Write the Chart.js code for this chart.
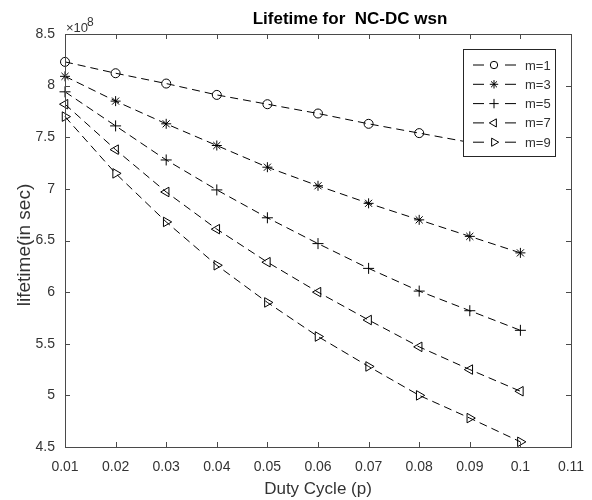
<!DOCTYPE html>
<html lang="en">
<head>
    <meta charset="UTF-8">
    <title>Lifetime for NC-DC wsn</title>
    <script src="https://cdn.jsdelivr.net/npm/chart.js"></script>
    <style>
        body {
            margin: 0;
            padding: 0;
            background: #ffffff;
        }
        #lifetimeChart {
            display: block;
        }
    </style>
</head>
<body>
<canvas id="lifetimeChart" width="592" height="500"></canvas>
<script>
// duty cycle values (x axis)
const dutyCycle = [0.01, 0.02, 0.03, 0.04, 0.05, 0.06, 0.07, 0.08, 0.09, 0.1];

// lifetime in units of 1e8 sec
const lifeM1 = [8.23, 8.12, 8.02, 7.91, 7.82, 7.73, 7.63, 7.54, 7.45, 7.37];
const lifeM3 = [8.09, 7.85, 7.63, 7.42, 7.21, 7.03, 6.86, 6.70, 6.54, 6.38];
const lifeM5 = [7.94, 7.61, 7.28, 6.99, 6.72, 6.47, 6.23, 6.01, 5.82, 5.63];
const lifeM7 = [7.82, 7.38, 6.97, 6.61, 6.29, 6.00, 5.73, 5.47, 5.25, 5.04];
const lifeM9 = [7.70, 7.15, 6.68, 6.26, 5.90, 5.57, 5.28, 5.00, 4.78, 4.55];

const seriesLabels = ['m=1', 'm=3', 'm=5', 'm=7', 'm=9'];

const xTicks = [0.01, 0.02, 0.03, 0.04, 0.05, 0.06, 0.07, 0.08, 0.09, 0.1, 0.11];
const yTicks = [4.5, 5, 5.5, 6, 6.5, 7, 7.5, 8, 8.5];

const axisColor = '#4a4a4a';
const textColor = '#333333';
const fontName = '"Liberation Sans", Arial, sans-serif';

// marker style per series (matlab o * + < >)
const markers = [
  { style: 'circle', rotation: 0, radius: 4.5 },
  { style: 'star', rotation: 0, radius: 5 },
  { style: 'cross', rotation: 0, radius: 5.5 },
  { style: 'triangle', rotation: -90, radius: 5.5 },
  { style: 'triangle', rotation: 90, radius: 5.5 }
];

function makeDataset(label, values, i) {
  return {
    label: label,
    data: values.map((v, k) => ({ x: dutyCycle[k], y: v })),
    borderColor: '#000000',
    borderWidth: 1,
    borderDash: [8, 5],
    backgroundColor: 'rgba(0,0,0,0)',
    pointStyle: markers[i].style,
    pointRotation: markers[i].rotation,
    pointRadius: markers[i].radius,
    pointBorderWidth: 1,
    pointBorderColor: '#000000',
    pointBackgroundColor: 'rgba(0,0,0,0)',
    fill: false,
    tension: 0,
    clip: false
  };
}

const allSeries = [lifeM1, lifeM3, lifeM5, lifeM7, lifeM9];

// box, inside ticks, title, axis labels and legend in matlab style
const matlabFrame = {
  id: 'matlabFrame',
  afterDatasetsDraw(chart) {
    const ctx = chart.ctx;
    const area = chart.chartArea;
    const xs = chart.scales.x;
    const ys = chart.scales.y;
    const tickLen = 5;

    ctx.save();
    ctx.strokeStyle = axisColor;
    ctx.lineWidth = 1;
    ctx.setLineDash([]);
    ctx.strokeRect(area.left + 0.5, area.top + 0.5, area.right - area.left, area.bottom - area.top);

    ctx.beginPath();
    xTicks.forEach(t => {
      const px = Math.round(xs.getPixelForValue(t)) + 0.5;
      ctx.moveTo(px, area.bottom);
      ctx.lineTo(px, area.bottom - tickLen);
      ctx.moveTo(px, area.top);
      ctx.lineTo(px, area.top + tickLen);
    });
    yTicks.forEach(t => {
      const py = Math.round(ys.getPixelForValue(t)) + 0.5;
      ctx.moveTo(area.left, py);
      ctx.lineTo(area.left + tickLen, py);
      ctx.moveTo(area.right, py);
      ctx.lineTo(area.right - tickLen, py);
    });
    ctx.stroke();

    const midX = (area.left + area.right) / 2;

    // title
    ctx.fillStyle = '#000000';
    ctx.font = 'bold 17px ' + fontName;
    ctx.textAlign = 'center';
    ctx.textBaseline = 'middle';
    ctx.fillText('Lifetime for  NC-DC wsn', 350, 19);

    // exponent label
    ctx.fillStyle = textColor;
    ctx.font = '13px ' + fontName;
    ctx.textAlign = 'left';
    ctx.textBaseline = 'alphabetic';
    ctx.fillText('\u00d710', area.left + 1, 32);
    ctx.font = '12px ' + fontName;
    ctx.fillText('8', area.left + 22, 26);

    // axis titles
    ctx.font = '17px ' + fontName;
    ctx.textAlign = 'center';
    ctx.textBaseline = 'middle';
    ctx.fillText('Duty Cycle (p)', midX, 489);
    ctx.save();
    ctx.font = '19px ' + fontName;
    ctx.translate(25, 245);
    ctx.rotate(-Math.PI / 2);
    ctx.fillText('lifetime(in sec)', 0, 0);
    ctx.restore();

    // legend
    const box = { left: 463, top: 49, width: 92, height: 107 };
    ctx.fillStyle = '#ffffff';
    ctx.fillRect(box.left, box.top, box.width, box.height);
    ctx.strokeStyle = '#262626';
    ctx.strokeRect(box.left + 0.5, box.top + 0.5, box.width, box.height);

    chart.data.datasets.forEach((ds, i) => {
      const rowY = 65 + i * 19.3;
      ctx.strokeStyle = '#000000';
      ctx.lineWidth = 1;
      ctx.setLineDash([11, 21]);
      ctx.beginPath();
      ctx.moveTo(473, rowY);
      ctx.lineTo(516, rowY);
      ctx.stroke();
      ctx.setLineDash([]);
      ctx.fillStyle = 'rgba(0,0,0,0)';
      Chart.helpers.drawPoint(ctx, {
        pointStyle: ds.pointStyle,
        rotation: ds.pointRotation,
        radius: ds.pointRadius - 0.8,
        borderWidth: 1
      }, 494, rowY);
      ctx.fillStyle = textColor;
      ctx.font = '13px ' + fontName;
      ctx.textAlign = 'left';
      ctx.textBaseline = 'middle';
      ctx.fillText(ds.label, 525, rowY + 1);
    });
    ctx.restore();
  }
};

const ctx = document.getElementById('lifetimeChart').getContext('2d');

const lifetimeChart = new Chart(ctx, {
  type: 'line',
  data: {
    datasets: allSeries.map((vals, i) => makeDataset(seriesLabels[i], vals, i))
  },
  options: {
    responsive: false,
    animation: false,
    layout: {
      padding: { left: 0, top: 34, right: 21, bottom: 0 }
    },
    plugins: {
      legend: { display: false },
      title: { display: false },
      tooltip: { enabled: false }
    },
    scales: {
      x: {
        type: 'linear',
        min: 0.01,
        max: 0.11,
        afterFit: scale => {
          scale.height = 53;
          scale.paddingLeft = 0;
          scale.paddingRight = 0;
        },
        afterBuildTicks: scale => { scale.ticks = xTicks.map(v => ({ value: v })); },
        grid: { display: false, drawTicks: false },
        border: { display: false },
        ticks: {
          color: textColor,
          font: { family: fontName, size: 14 },
          padding: 12,
          maxRotation: 0,
          autoSkip: false,
          callback: v => String(Number(v.toFixed(2)))
        }
      },
      y: {
        type: 'linear',
        min: 4.5,
        max: 8.5,
        afterFit: scale => {
          scale.width = 65;
          scale.paddingTop = 0;
          scale.paddingBottom = 0;
        },
        afterBuildTicks: scale => { scale.ticks = yTicks.map(v => ({ value: v })); },
        grid: { display: false, drawTicks: false },
        border: { display: false },
        ticks: {
          color: textColor,
          font: { family: fontName, size: 14 },
          padding: 10,
          autoSkip: false,
          callback: v => String(v)
        }
      }
    }
  },
  plugins: [matlabFrame]
});
</script>
</body>
</html>
